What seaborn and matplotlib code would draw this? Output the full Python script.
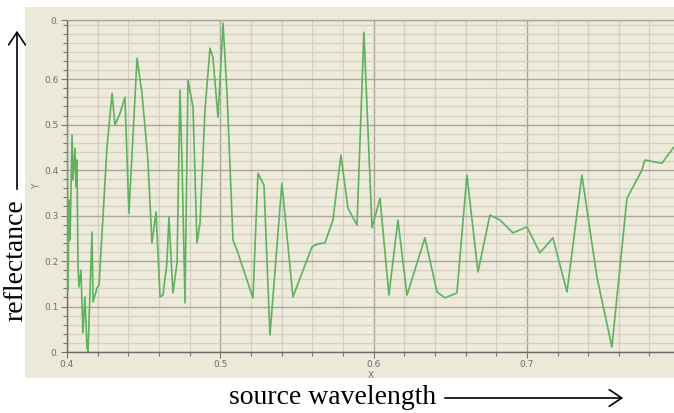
import numpy as np
import pandas as pd
import matplotlib
matplotlib.use("Agg")
import matplotlib.pyplot as plt
import seaborn as sns
from matplotlib.patches import Rectangle, FancyArrowPatch
from matplotlib.ticker import MultipleLocator, FixedLocator

# ---- data ----
wavelength = [0.4000, 0.4007, 0.4013, 0.4020, 0.4033, 0.4039, 0.4052, 0.4059, 0.4065,
              0.4072, 0.4078, 0.4091, 0.4104, 0.4117, 0.4130, 0.4137, 0.4163, 0.4170,
              0.4196, 0.4209, 0.4261, 0.4294, 0.4313, 0.4346, 0.4378, 0.4404, 0.4457,
              0.4489, 0.4528, 0.4554, 0.4581, 0.4607, 0.4626, 0.4652, 0.4665, 0.4691,
              0.4718, 0.4737, 0.4750, 0.4770, 0.4789, 0.4822, 0.4848, 0.4868, 0.4900,
              0.4933, 0.4952, 0.4985, 0.5018, 0.5044, 0.5083, 0.5109, 0.5213, 0.5246,
              0.5285, 0.5324, 0.5402, 0.5474, 0.5598, 0.5631, 0.5683, 0.5735, 0.5787,
              0.5833, 0.5892, 0.5937, 0.5990, 0.6042, 0.6100, 0.6159, 0.6218, 0.6335,
              0.6414, 0.6466, 0.6544, 0.6609, 0.6681, 0.6759, 0.6825, 0.6909, 0.7001,
              0.7085, 0.7170, 0.7262, 0.7359, 0.7457, 0.7555, 0.7653, 0.7751, 0.7770,
              0.7881, 0.7960]
reflectance = [0.516, 0.136, 0.334, 0.246, 0.477, 0.378, 0.448, 0.363, 0.422,
               0.187, 0.143, 0.180, 0.042, 0.121, 0.011, 0.000, 0.264, 0.110,
               0.141, 0.147, 0.451, 0.569, 0.499, 0.525, 0.560, 0.305, 0.646,
               0.569, 0.422, 0.240, 0.308, 0.121, 0.125, 0.196, 0.297, 0.130,
               0.196, 0.576, 0.422, 0.108, 0.598, 0.538, 0.240, 0.284, 0.532,
               0.668, 0.648, 0.516, 0.723, 0.569, 0.246, 0.224, 0.119, 0.393,
               0.367, 0.037, 0.371, 0.121, 0.231, 0.237, 0.240, 0.290, 0.433,
               0.316, 0.279, 0.703, 0.273, 0.338, 0.125, 0.290, 0.125, 0.251,
               0.132, 0.119, 0.130, 0.389, 0.176, 0.301, 0.290, 0.262, 0.275,
               0.218, 0.251, 0.132, 0.389, 0.165, 0.011, 0.338, 0.400, 0.422,
               0.415, 0.451]
x_ticks = [0.4, 0.5, 0.6, 0.7]
x_tick_labels = ["0.4", "0.5", "0.6", "0.7"]
y_ticks = [0.0, 0.1, 0.2, 0.3, 0.4, 0.5, 0.6, 0.73]
y_tick_labels = ["0.", "0.1", "0.2", "0.3", "0.4", "0.5", "0.6", "0."]

df = pd.DataFrame({"x": wavelength, "y": reflectance})

sns.set_style("white")
W, H = 674, 413
fig = plt.figure(figsize=(W / 100, H / 100), dpi=100)
fig.patch.set_facecolor("white")

panel_bg = "#ECE9D8"
panel = fig.add_axes([25 / W, 1 - 378 / H, (W - 25) / W, (378 - 7) / H], zorder=-5)
panel.set_facecolor(panel_bg)
panel.set_xticks([])
panel.set_yticks([])
for s in panel.spines.values():
    s.set_visible(False)

ax = fig.add_axes([67 / W, 1 - 352 / H, (W - 67) / W, (352 - 20) / H], zorder=2)
ax.set_facecolor("#EEEBDD")

sns.lineplot(data=df, x="x", y="y", ax=ax, sort=False, estimator=None,
             color="#5DB35D", linewidth=1.2, zorder=3)

ax.set_xlim(0.4, 0.796)
ax.set_ylim(0.0, 0.73)

ax.xaxis.set_major_locator(FixedLocator(x_ticks))
ax.set_xticklabels(x_tick_labels)
ax.xaxis.set_minor_locator(MultipleLocator(0.02))
ax.yaxis.set_major_locator(FixedLocator(y_ticks))
ax.set_yticklabels(y_tick_labels)
ax.yaxis.set_minor_locator(MultipleLocator(0.02))

ax.grid(which="major", color="#A9A59B", linewidth=1.0, zorder=1)
ax.grid(which="minor", color="#D3CFC2", linewidth=0.9, zorder=1)
ax.set_axisbelow(True)

ax.tick_params(axis="both", which="major", labelsize=6.5, labelcolor="#6E6E6E",
               color="#777777", length=4, width=0.8, pad=2, direction="out")
ax.tick_params(axis="both", which="minor", color="#777777", length=3, width=0.8,
               direction="out")
ax.tick_params(axis="y", which="both", left=True)
ax.tick_params(axis="x", which="both", bottom=True)

ax.spines["right"].set_visible(False)
ax.spines["left"].set_color("#6A6A6A")
ax.spines["bottom"].set_color("#6A6A6A")
ax.spines["top"].set_color("#A9A59B")
for s in ["left", "bottom", "top"]:
    ax.spines[s].set_linewidth(1.0)

ax.set_xlabel("X", fontsize=6.5, color="#6E6E6E", labelpad=1)
ax.set_ylabel("Y", fontsize=6.5, color="#6E6E6E", labelpad=2)

# outer annotations
serif = "Liberation Serif"
fig.text(16 / W, 1 - 260 / H, "reflectance", rotation=90, family=serif,
         fontsize=20, ha="center", va="center", color="black")
fig.text(333 / W, 1 - 398 / H, "source wavelength", family=serif,
         fontsize=20, ha="center", va="center", color="black")

arr_v = FancyArrowPatch((17 / W, 1 - 192 / H), (17 / W, 1 - 28 / H),
                        transform=fig.transFigure, arrowstyle="->,head_length=6,head_width=4",
                        color="black", linewidth=1.2, mutation_scale=1.5)
arr_h = FancyArrowPatch((442 / W, 1 - 398 / H), (626 / W, 1 - 398 / H),
                        transform=fig.transFigure, arrowstyle="->,head_length=6,head_width=4",
                        color="black", linewidth=1.2, mutation_scale=1.5)
fig.patches.append(arr_v)
fig.patches.append(arr_h)

fig.savefig("out.png", dpi=100, facecolor="white")
